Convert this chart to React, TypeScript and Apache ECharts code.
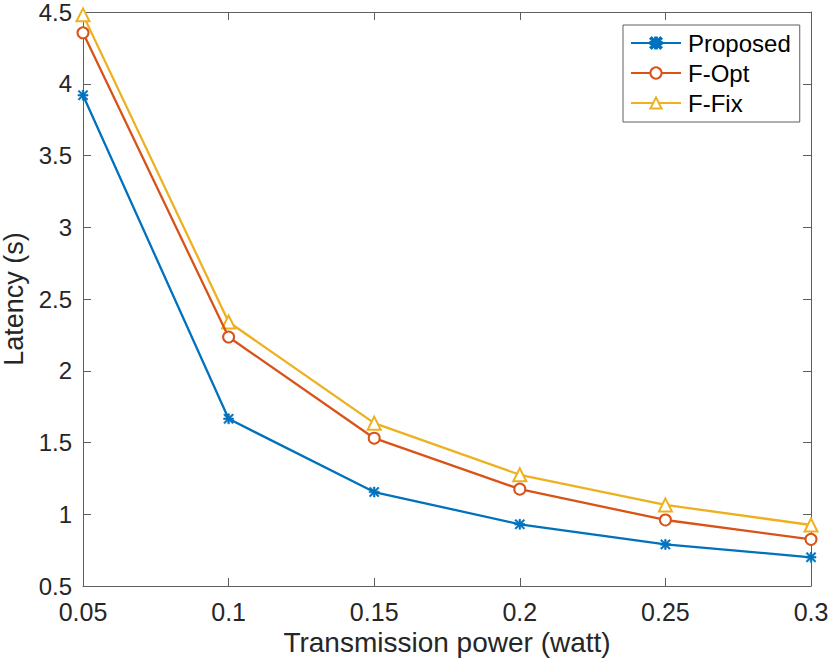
import React, { useEffect, useRef } from "react";
import * as echarts from "echarts";

const xValues = [0.05, 0.1, 0.15, 0.2, 0.25, 0.3];
const proposed = [3.92, 1.665, 1.155, 0.93, 0.79, 0.7];
const fOpt = [4.355, 2.235, 1.53, 1.175, 0.96, 0.825];
const fFix = [4.48, 2.34, 1.635, 1.275, 1.065, 0.925];
const seriesNames = ["Proposed", "F-Opt", "F-Fix"];
const colors = ["#0072BD", "#D95319", "#EDB120"];
const xTitle = "Transmission power (watt)";
const yTitle = "Latency (s)";

const FONT = '"Liberation Sans", Arial, Helvetica, sans-serif';
const TEXT = "#262626";
const AXIS = "#5e5e5e";

const asterisk =
  "path://M0 4.2L10 4.2L10 5.8L0 5.8Z M4.2 0L5.8 0L5.8 10L4.2 10Z M1.1 0L10 8.9L8.9 10L0 1.1Z M8.9 0L10 1.1L1.1 10L0 8.9Z";

const fmt = (v: number) => String(parseFloat(v.toFixed(4)));

export default function App() {
  const ref = useRef<HTMLDivElement>(null);
  useEffect(() => {
    if (!ref.current) return;
    const chart = echarts.init(ref.current, undefined, { renderer: "svg" });
    const pairs = (ys: number[]) => ys.map((y, i) => [xValues[i], y]);
    const axisCommon = {
      axisLine: { show: true, lineStyle: { color: AXIS, width: 1 } },
      axisTick: { show: true, inside: true, length: 8, lineStyle: { color: AXIS, width: 1 } },
      splitLine: { show: false },
    };
    const seriesSymbols = [asterisk, "emptyCircle", "emptyTriangle"];
    const symbolSizes = [10, 11, 13];
    chart.setOption({
      animation: false,
      backgroundColor: "#ffffff",
      textStyle: { fontFamily: FONT, color: TEXT },
      grid: {
        left: 83,
        right: 19,
        top: 12,
        bottom: 78,
        containLabel: false,
        outerBoundsMode: "none",
      },
      xAxis: [
        {
          type: "value",
          min: 0.05,
          max: 0.3,
          interval: 0.05,
          position: "bottom",
          ...axisCommon,
          axisLabel: {
            show: true,
            margin: 13,
            fontSize: 25,
            color: TEXT,
            fontFamily: FONT,
            formatter: (v: number) => fmt(v),
          },
          name: xTitle,
          nameLocation: "middle",
          nameGap: 33,
          nameTextStyle: { fontSize: 28, color: TEXT, fontFamily: FONT, verticalAlign: "top" },
        },
        {
          type: "value",
          min: 0.05,
          max: 0.3,
          interval: 0.05,
          position: "top",
          ...axisCommon,
          axisLabel: { show: false },
        },
      ],
      yAxis: [
        {
          type: "value",
          min: 0.5,
          max: 4.5,
          interval: 0.5,
          position: "left",
          ...axisCommon,
          axisLabel: {
            show: true,
            margin: 11,
            fontSize: 24,
            lineHeight: 20,
            color: TEXT,
            fontFamily: FONT,
            formatter: (v: number) => fmt(v),
          },
          name: yTitle,
          nameLocation: "middle",
          nameGap: 51,
          nameRotate: 90,
          nameTextStyle: { fontSize: 27, lineHeight: 26, color: TEXT, fontFamily: FONT },
        },
        {
          type: "value",
          min: 0.5,
          max: 4.5,
          interval: 0.5,
          position: "right",
          ...axisCommon,
          axisLabel: { show: false },
        },
      ],
      legend: {
        show: true,
        orient: "vertical",
        left: 623,
        top: 25,
        backgroundColor: "#ffffff",
        borderColor: AXIS,
        borderWidth: 1,
        borderRadius: 0,
        padding: [6, 9, 7, 7],
        itemWidth: 50,
        itemHeight: 14,
        itemGap: 6,
        textStyle: { fontSize: 24, color: "#000000", fontFamily: FONT, padding: [0, 0, 0, 2] },
        data: seriesNames,
      },
      series: [proposed, fOpt, fFix].map((ys, i) => ({
        name: seriesNames[i],
        type: "line",
        xAxisIndex: 0,
        yAxisIndex: 0,
        data: pairs(ys),
        symbol: seriesSymbols[i],
        symbolSize: symbolSizes[i],
        showAllSymbol: true,
        lineStyle: { color: colors[i], width: 2.3 },
        itemStyle: {
          color: colors[i],
          borderColor: colors[i],
          borderWidth: i === 0 ? 0.6 : 2,
        },
        emphasis: { disabled: true },
        z: 3 - i,
      })),
    });
    return () => chart.dispose();
  }, []);
  return (
    <div
      ref={ref}
      style={{ position: "absolute", left: 0, top: 0, width: 830, height: 664, background: "#fff" }}
    />
  );
}
